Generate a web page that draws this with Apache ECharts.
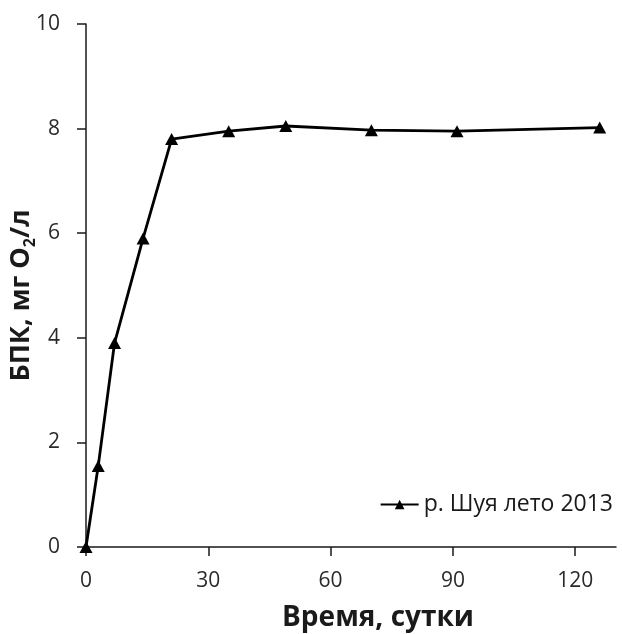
<!DOCTYPE html>
<html>
<head>
<meta charset="utf-8">
<script src="https://cdn.jsdelivr.net/npm/echarts@6/dist/echarts.min.js"></script>
<style>
  html, body { margin: 0; padding: 0; background: #fff; }
  #chart { width: 622px; height: 634px; }
</style>
</head>
<body>
<div id="chart"></div>
<script>
// BOD over incubation time, river Shuya, summer 2013
const days = [0, 3, 7, 14, 21, 35, 49, 70, 91, 126];
const bod = [0, 1.55, 3.9, 5.9, 7.8, 7.95, 8.05, 7.97, 7.95, 8.02];
const xTicks = [0, 30, 60, 90, 120];
const yTicks = [0, 2, 4, 6, 8, 10];
const seriesName = 'р. Шуя лето 2013';

const FONT = '"Open Sans", "DejaVu Sans", sans-serif';
const INK = '#1a1a1a';

const chart = echarts.init(document.getElementById('chart'), null, { renderer: 'canvas' });

chart.setOption({
  animation: false,
  backgroundColor: '#ffffff',
  grid: { left: 86, right: 6, top: 24, bottom: 87, containLabel: false, outerBoundsMode: 'none' },
  legend: {
    data: [seriesName],
    right: 4,
    top: 488,
    itemWidth: 38,
    itemHeight: 12,
    itemGap: 4,
    textStyle: { fontFamily: FONT, fontSize: 23, color: INK }
  },
  xAxis: {
    type: 'value',
    min: 0,
    max: 130,
    interval: 30,
    splitLine: { show: false },
    axisLine: { lineStyle: { color: INK, width: 1.5 } },
    axisTick: { show: true, length: 9, lineStyle: { color: INK, width: 1.5 }, customValues: xTicks },
    axisLabel: { fontFamily: FONT, fontSize: 21, color: '#2a2a2a', margin: 24, customValues: xTicks },
    name: 'Время, сутки',
    nameLocation: 'middle',
    nameGap: 57,
    nameMoveOverlap: false,
    nameTextStyle: { fontFamily: FONT, fontSize: 28, fontWeight: 'bold', color: INK, padding: [0, 0, 0, 54] }
  },
  yAxis: {
    type: 'value',
    min: 0,
    max: 10,
    interval: 2,
    splitLine: { show: false },
    axisLine: { show: true, lineStyle: { color: INK, width: 1.5 } },
    axisTick: { show: true, length: 9, lineStyle: { color: INK, width: 1.5 }, customValues: yTicks },
    axisLabel: { fontFamily: FONT, fontSize: 21, color: '#2a2a2a', margin: 26, customValues: yTicks },
    name: '{a|БПК, мг O}{s|2}{a|/л}',
    nameLocation: 'middle',
    nameRotate: 90,
    nameGap: 48,
    nameMoveOverlap: false,
    nameTextStyle: {
      padding: [0, 20, 0, 0],
      rich: {
        a: { fontFamily: FONT, fontSize: 27, fontWeight: 'bold', color: INK, lineHeight: 34, verticalAlign: 'middle' },
        s: { fontFamily: FONT, fontSize: 16, fontWeight: 'bold', color: INK, lineHeight: 34, verticalAlign: 'bottom' }
      }
    }
  },
  series: [{
    name: seriesName,
    type: 'line',
    data: days.map((d, i) => [d, bod[i]]),
    symbol: 'triangle',
    symbolSize: [13, 12],
    showSymbol: true,
    clip: false,
    lineStyle: { color: '#000', width: 2.8 },
    itemStyle: { color: '#000' }
  }]
});
</script>
</body>
</html>
